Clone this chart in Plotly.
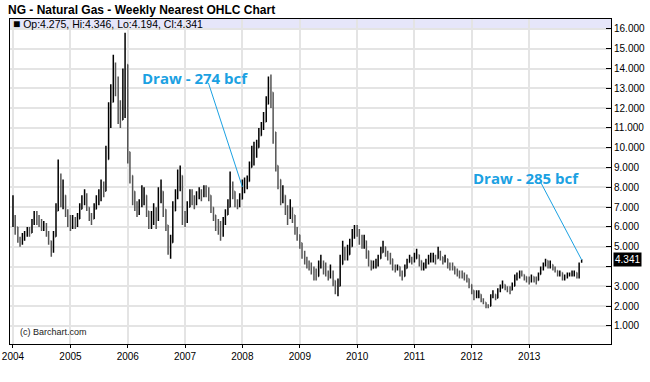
import pandas as pd
import plotly.graph_objects as go

# ---- data (semi-monthly bars) ----
start_date = "2004-01-01"

closes = [
    6.4, 6.0, 5.4, 5.2, 5.5, 5.6, 5.8, 5.7, 6.2, 6.6, 6.4, 6.3, 6.0, 6.1, 5.7, 5.3, 4.8, 5.5, 6.8, 8.2, 7.4, 7.6, 6.8, 6.2,
    6.1, 6.3, 6.2, 6.4, 6.9, 7.3, 7.6, 7.0, 6.6, 6.4, 6.9, 7.3, 7.6, 8.0, 7.8, 9.4, 11.2, 12.3, 14.0, 13.2, 11.8, 11.4, 13.5, 14.2,
    9.8, 8.6, 7.8, 7.1, 6.8, 7.2, 7.4, 7.6, 6.8, 6.3, 6.4, 6.7, 6.4, 7.6, 7.8, 6.9, 6.1, 4.9, 5.2, 6.8, 7.5, 8.2, 8.6, 6.6,
    6.3, 7.0, 7.6, 7.4, 7.2, 7.5, 7.8, 7.6, 7.8, 7.7, 7.6, 7.0, 6.6, 6.1, 6.0, 5.6, 6.2, 6.6, 7.0, 8.1, 7.8, 7.3, 7.1, 7.4,
    7.9, 8.0, 8.3, 9.0, 9.6, 9.8, 10.0, 10.6, 11.0, 11.3, 12.2, 13.1, 12.8, 10.8, 9.1, 8.4, 7.4, 7.6, 6.9, 6.6, 6.9, 6.6, 5.9, 5.6,
    5.2, 4.7, 4.4, 4.1, 4.0, 3.9, 3.6, 3.5, 4.0, 4.2, 3.9, 3.7, 3.5, 3.7, 3.3, 2.9, 3.0, 4.1, 4.7, 4.5, 4.6, 5.0, 5.5, 5.8,
    5.7, 5.5, 5.2, 5.3, 4.8, 4.3, 3.9, 4.1, 4.2, 4.4, 4.7, 5.0, 4.7, 4.5, 4.4, 4.0, 3.9, 4.0, 3.7, 3.5, 3.9, 4.2, 4.4, 4.3,
    4.4, 4.6, 4.3, 3.9, 4.0, 4.2, 4.3, 4.4, 4.5, 4.4, 4.7, 4.5, 4.3, 4.4, 4.1, 4.0, 4.0, 3.8, 3.6, 3.6, 3.6, 3.5, 3.4, 3.1,
    2.8, 2.5, 2.6, 2.6, 2.3, 2.2, 2.0, 2.0, 2.5, 2.6, 2.4, 2.8, 2.9, 3.1, 2.9, 2.8, 2.8, 3.0, 3.4, 3.5, 3.7, 3.6, 3.5, 3.4,
    3.3, 3.5, 3.3, 3.3, 3.6, 3.9, 4.1, 4.3, 4.0, 4.1, 3.9, 3.8, 3.6, 3.7, 3.4, 3.5, 3.6, 3.6, 3.6, 3.7, 3.5, 4.1, 4.341,
]

highs = [
    7.6, 6.6, 5.9, 5.5, 5.7, 5.8, 6.0, 6.0, 6.4, 6.8, 6.8, 6.6, 6.4, 6.3, 6.2, 5.8, 5.2, 5.8, 7.2, 9.4, 8.7, 8.4, 7.6, 6.9,
    6.6, 6.6, 6.5, 6.7, 7.2, 7.6, 7.9, 7.7, 7.0, 6.7, 7.2, 7.6, 7.9, 8.4, 8.3, 10.1, 12.3, 13.2, 14.7, 14.3, 13.6, 12.4, 14.0, 15.8,
    11.2, 9.6, 8.6, 7.6, 7.3, 7.4, 8.1, 8.0, 7.6, 6.8, 6.8, 7.2, 7.0, 8.0, 8.4, 7.6, 6.9, 6.0, 5.6, 7.3, 7.9, 8.9, 9.1, 8.0,
    6.8, 7.3, 7.9, 7.9, 7.6, 7.8, 8.0, 7.9, 8.1, 8.1, 8.0, 7.6, 7.0, 6.6, 6.4, 6.3, 6.5, 6.9, 7.4, 8.8, 8.3, 7.8, 7.4, 7.7,
    8.4, 8.5, 8.6, 9.3, 10.1, 10.3, 10.4, 11.0, 11.3, 11.8, 12.6, 13.6, 13.7, 12.2, 10.0, 8.9, 8.1, 8.1, 7.5, 7.1, 7.4, 7.0, 6.5, 6.0,
    5.6, 5.1, 4.8, 4.5, 4.3, 4.2, 4.0, 3.9, 4.3, 4.6, 4.3, 4.2, 3.8, 4.1, 3.8, 3.3, 3.4, 4.6, 5.3, 5.0, 5.1, 5.4, 5.9, 6.1,
    6.1, 5.9, 5.6, 5.6, 5.1, 4.6, 4.3, 4.3, 4.4, 4.6, 5.0, 5.3, 5.0, 4.8, 4.7, 4.3, 4.1, 4.1, 4.0, 3.8, 4.1, 4.4, 4.6, 4.5,
    4.7, 4.9, 4.6, 4.2, 4.2, 4.4, 4.6, 4.7, 4.7, 4.6, 5.0, 4.8, 4.5, 4.6, 4.4, 4.2, 4.2, 4.0, 3.9, 3.8, 3.8, 3.7, 3.6, 3.3,
    3.1, 2.8, 2.8, 2.8, 2.6, 2.4, 2.2, 2.1, 2.6, 2.8, 2.6, 2.9, 3.1, 3.3, 3.1, 3.0, 3.0, 3.2, 3.6, 3.7, 3.8, 3.8, 3.6, 3.5,
    3.5, 3.6, 3.5, 3.5, 3.7, 4.0, 4.2, 4.4, 4.3, 4.3, 4.1, 4.0, 3.8, 3.8, 3.6, 3.6, 3.7, 3.7, 3.8, 3.8, 3.6, 4.2, 4.346,
]

lows = [
    6.0, 5.6, 5.2, 5.0, 5.1, 5.3, 5.5, 5.5, 5.8, 6.1, 6.1, 6.0, 5.8, 5.8, 5.5, 5.1, 4.5, 4.7, 5.9, 7.0, 7.0, 6.9, 6.5, 6.0,
    5.8, 5.9, 5.9, 6.0, 6.4, 6.9, 7.1, 6.8, 6.3, 6.1, 6.4, 6.9, 7.1, 7.3, 7.5, 8.6, 10.5, 11.0, 12.6, 12.6, 11.2, 11.0, 12.0, 11.5,
    9.2, 8.2, 7.1, 6.8, 6.5, 6.6, 7.0, 7.1, 6.5, 5.9, 5.9, 6.1, 5.9, 6.3, 7.2, 6.5, 5.8, 4.6, 4.4, 5.4, 7.0, 7.4, 7.8, 6.1,
    6.0, 6.2, 7.0, 7.1, 6.9, 7.1, 7.4, 7.3, 7.5, 7.5, 7.3, 6.7, 6.3, 5.8, 5.6, 5.3, 5.5, 6.1, 6.6, 7.3, 7.4, 7.0, 6.9, 7.0,
    7.6, 7.7, 7.9, 8.4, 9.1, 9.1, 9.5, 10.1, 10.6, 10.9, 11.6, 12.4, 12.0, 10.2, 8.8, 7.9, 7.1, 7.2, 6.6, 6.1, 6.4, 6.2, 5.6, 5.3,
    4.9, 4.4, 4.1, 3.9, 3.8, 3.6, 3.3, 3.3, 3.6, 3.9, 3.6, 3.5, 3.3, 3.4, 3.0, 2.6, 2.5, 3.7, 4.3, 4.3, 4.3, 4.6, 5.0, 5.4,
    5.5, 5.1, 4.9, 4.9, 4.4, 4.0, 3.8, 3.9, 3.9, 4.0, 4.4, 4.7, 4.5, 4.3, 4.1, 3.8, 3.7, 3.8, 3.5, 3.3, 3.5, 3.9, 4.2, 4.1,
    4.2, 4.4, 4.0, 3.8, 3.8, 3.9, 4.1, 4.2, 4.2, 4.1, 4.5, 4.3, 4.1, 4.2, 3.9, 3.8, 3.8, 3.6, 3.5, 3.4, 3.4, 3.3, 3.2, 2.9,
    2.6, 2.3, 2.4, 2.4, 2.2, 2.1, 1.9, 1.9, 2.0, 2.4, 2.3, 2.4, 2.7, 2.9, 2.8, 2.7, 2.6, 2.8, 3.2, 3.3, 3.4, 3.5, 3.3, 3.2,
    3.1, 3.2, 3.2, 3.1, 3.3, 3.6, 3.8, 4.0, 3.9, 3.9, 3.8, 3.7, 3.5, 3.5, 3.3, 3.3, 3.4, 3.5, 3.5, 3.5, 3.4, 3.4, 4.194,
]

last_open = 4.275

year_ticks = ["2004-01-01", "2005-01-01", "2006-01-01", "2007-01-01", "2008-01-01",
              "2009-01-01", "2010-01-01", "2011-01-01", "2012-01-01", "2013-01-01"]
year_labels = ["2004", "2005", "2006", "2007", "2008", "2009", "2010", "2011", "2012", "2013"]
price_ticks = [1, 2, 3, 4, 5, 6, 7, 8, 9, 10, 11, 12, 13, 14, 15, 16]

# annotation labels and anchor points
note1_text = "Draw - 274 bcf"
note1_label_pos = ("2007-03-07", 13.53)
note1_line_start = ("2007-05-30", 13.27)
note1_line_end = ("2008-01-01", 8.02)

note2_text = "Draw - 285 bcf"
note2_label_pos = ("2012-12-09", 8.47)
note2_line_start = ("2013-03-14", 8.27)

# ---- derived ----
dates = pd.date_range(start=start_date, periods=len(closes), freq="SMS")
opens = [closes[0]] + closes[:-1]
opens[-1] = last_open
hi = [max(h, o, c) for h, o, c in zip(highs, opens, closes)]
lo = [min(l, o, c) for l, o, c in zip(lows, opens, closes)]

# the last-value box hides the tick label it overlaps
price_text = ["" if abs(v - closes[-1]) < 0.6 else f"{v:.3f}" for v in price_ticks]

fig = go.Figure()
fig.add_trace(go.Ohlc(
    x=dates, open=opens, high=hi, low=lo, close=closes,
    increasing=dict(line=dict(color="#000000", width=1.5)),
    decreasing=dict(line=dict(color="#555555", width=1.5)),
    tickwidth=0.3, hoverinfo="skip", showlegend=False,
))

blue = "#1ba1e2"
font_main = "Liberation Sans, Arial, sans-serif"

fig.update_layout(
    width=650, height=382,
    margin=dict(l=10, r=39, t=19, b=38, autoexpand=False),
    paper_bgcolor="white", plot_bgcolor="white",
    showlegend=False,
    font=dict(family=font_main, size=10, color="black"),
    title=dict(
        text="<b>NG - Natural Gas - Weekly Nearest OHLC Chart</b>",
        font=dict(family=font_main, size=12, color="black"),
        x=8 / 650, xanchor="left", xref="container",
        y=1 - 10 / 382, yanchor="middle", yref="container",
        pad=dict(l=0, r=0, t=0, b=0),
    ),
    xaxis=dict(
        type="date", range=["2003-12-13", "2014-06-06"],
        tickvals=year_ticks, ticktext=year_labels,
        showgrid=True, gridcolor="#e4e4e4", gridwidth=2,
        showline=True, linecolor="black", linewidth=1, mirror=True,
        ticks="outside", ticklen=3, tickcolor="black",
        tickfont=dict(size=10), rangeslider=dict(visible=False),
        fixedrange=True, automargin=False,
    ),
    yaxis=dict(
        side="right", range=[0.09, 16.5],
        tickvals=price_ticks, ticktext=price_text,
        showgrid=True, gridcolor="#e4e4e4", gridwidth=2,
        showline=True, linecolor="black", linewidth=1, mirror=True,
        ticks="inside", ticklen=5, tickcolor="black", zeroline=False,
        tickfont=dict(size=10), fixedrange=True, automargin=False,
    ),
)

# header band
fig.add_shape(type="rect", xref="paper", yref="y", x0=0, x1=1, y0=16.0, y1=16.5,
              fillcolor="#e6e6fa", line=dict(width=0), layer="below")

# header legend text
fig.add_annotation(
    xref="paper", yref="y", x=0, y=16.25, xanchor="left", yanchor="middle", xshift=1,
    text=f"<span style='font-size:12px'>■</span> Op:{opens[-1]:.3f}, Hi:{hi[-1]:.3f}, Lo:{lo[-1]:.3f}, Cl:{closes[-1]:.3f}",
    showarrow=False, font=dict(size=10.5, color="black"),
)

# last value box
fig.add_annotation(
    xref="paper", yref="y", x=1, y=closes[-1], xanchor="left", yanchor="middle", xshift=2,
    text=f"{closes[-1]:.3f}", showarrow=False, bgcolor="black", borderpad=1,
    font=dict(size=10, color="white"),
)

# copyright
fig.add_annotation(
    xref="paper", yref="paper", x=0, y=0, xanchor="left", yanchor="bottom", xshift=8, yshift=5,
    text="(c) Barchart.com", showarrow=False, font=dict(size=9, color="#222222"),
)

# Draw annotations
note_font = dict(family="Open Sans, sans-serif", size=15, color=blue)
fig.add_annotation(x=note1_label_pos[0], y=note1_label_pos[1], text=f"<b>{note1_text}</b>",
                   showarrow=False, font=note_font, xanchor="center", yanchor="middle")
fig.add_annotation(x=note2_label_pos[0], y=note2_label_pos[1], text=f"<b>{note2_text}</b>",
                   showarrow=False, font=note_font, xanchor="center", yanchor="middle")
fig.add_shape(type="line", xref="x", yref="y",
              x0=note1_line_start[0], y0=note1_line_start[1],
              x1=note1_line_end[0], y1=note1_line_end[1],
              line=dict(color=blue, width=1))
fig.add_shape(type="line", xref="x", yref="y",
              x0=note2_line_start[0], y0=note2_line_start[1],
              x1=dates[-1], y1=closes[-1],
              line=dict(color=blue, width=1))

fig.write_html(
    "out.html",
    config={"displayModeBar": False},
    post_script="document.body.style.margin='0';document.body.style.overflow='hidden';",
)
